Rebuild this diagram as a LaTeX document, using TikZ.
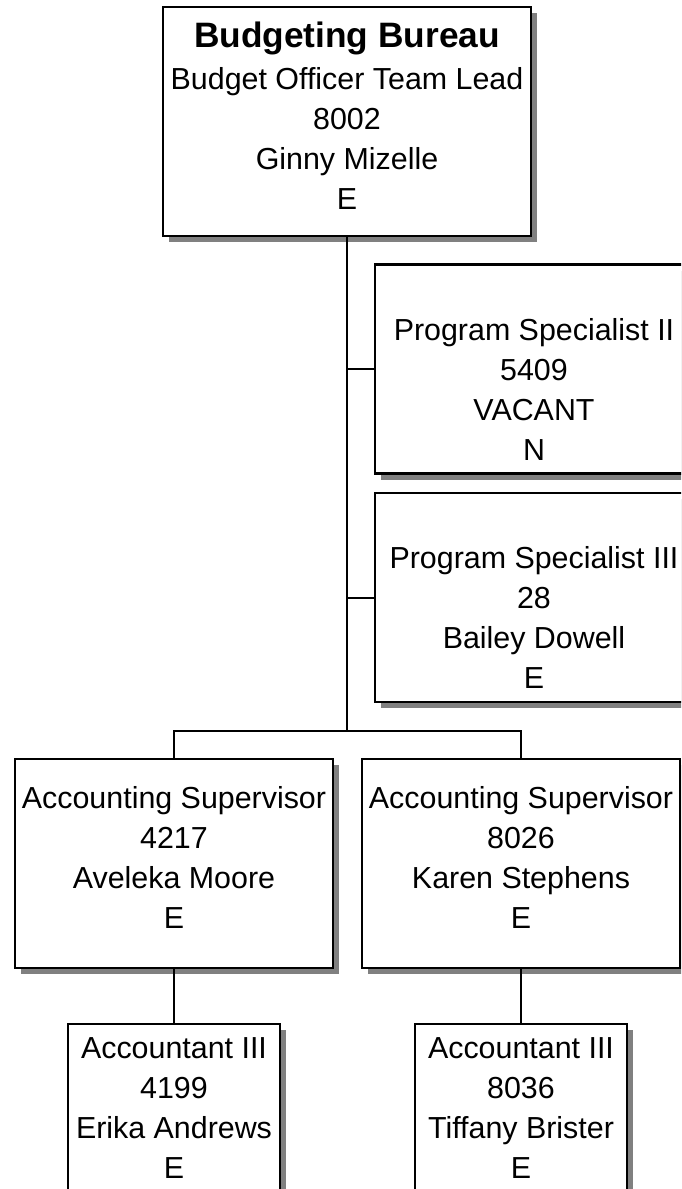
\documentclass[tikz,border=0pt]{standalone}
\usepackage{fontspec}
\setmainfont{Liberation Sans}
\usetikzlibrary{shadows}
\begin{document}
\begin{tikzpicture}[x=1pt,y=-1pt,
  box/.style={draw, line width=2.5pt, fill=white, inner sep=0pt,
    drop shadow={shadow xshift=6pt, shadow yshift=-6pt, fill=black!50, opacity=1}},
  wbox/.style={box, minimum width=318pt, minimum height=209pt},
  sbox/.style={box, minimum width=212pt, minimum height=209pt},
  txt/.style={align=center, inner sep=0pt, font=\fontsize{30.4}{40}\selectfont},
  conn/.style={line width=2pt}]
\useasboundingbox (0,0) rectangle (681,1189);
\fill[white] (0,0) rectangle (681,1189);
\clip (0,0) rectangle (681,1189);
% boxes
\node[box, minimum width=368pt, minimum height=229pt] (top) at (347,121.5) {};
\node[wbox] (ps2) at (534,369) {};
\node[wbox] (ps3) at (534,597.5) {};
\node[wbox] (sup1) at (174,863.5) {};
\node[wbox] (sup2) at (521,863.5) {};
\node[sbox] (acc1) at (174,1128.5) {};
\node[sbox] (acc2) at (521,1128.5) {};
% texts
\node[txt, yshift=5.75pt] (ttop) at (top.center) {{\fontsize{35.3}{40}\selectfont\bfseries Budgeting Bureau}\\[2pt]Budget Officer Team Lead\\8002\\Ginny Mizelle\\E};
\node[txt, yshift=-20.5pt] (tps2) at (ps2.center) {Program Specialist II\\5409\\VACANT\\N};
\node[txt, yshift=-20pt] (tps3) at (ps3.center) {Program Specialist III\\28\\Bailey Dowell\\E};
\node[txt, yshift=6.5pt] (tsup1) at (sup1.center) {Accounting Supervisor\\4217\\Aveleka Moore\\E};
\node[txt, yshift=6.5pt] (tsup2) at (sup2.center) {Accounting Supervisor\\8026\\Karen Stephens\\E};
\node[txt, yshift=20.5pt] (tacc1) at (acc1.center) {Accountant III\\4199\\Erika Andrews\\E};
\node[txt, yshift=20.5pt] (tacc2) at (acc2.center) {Accountant III\\8036\\Tiffany Brister\\E};
% connectors
\coordinate (bus) at (top.south |- 0,731);
\draw[conn] (top.south) -- (bus);
\draw[conn] (ps2.west) -- (ps2.west -| top.south);
\draw[conn] (ps3.west) -- (ps3.west -| top.south);
\draw[conn] (sup1.north) |- (bus) -| (sup2.north);
\draw[conn] (sup1.south) -- (acc1.north);
\draw[conn] (sup2.south) -- (acc2.north);
\end{tikzpicture}
\end{document}
